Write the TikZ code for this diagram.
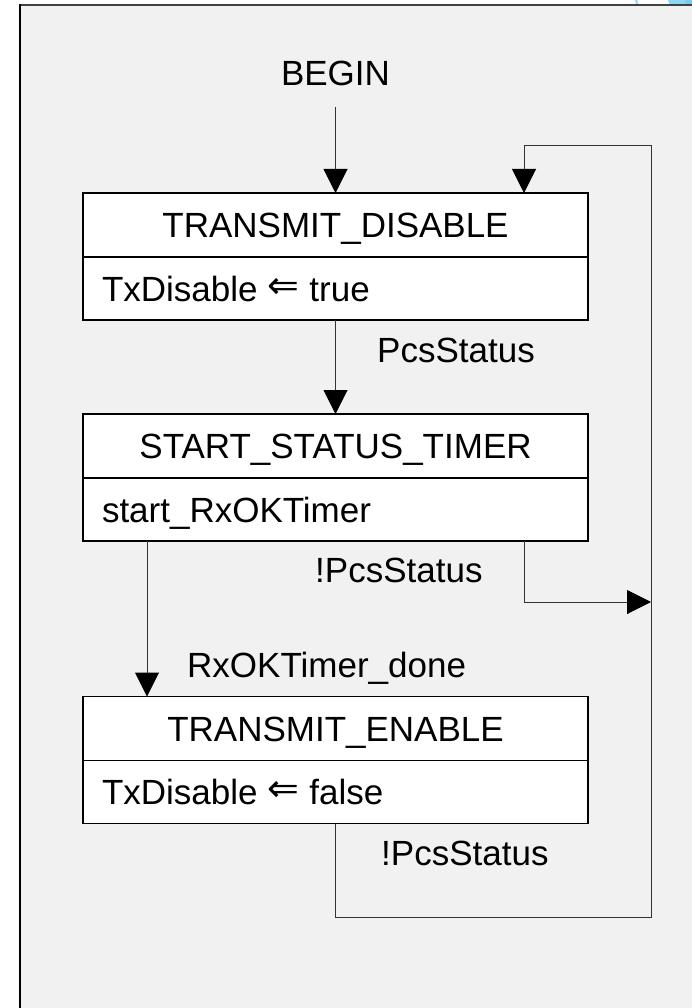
\documentclass[tikz,border=0pt]{standalone}
\usepackage{fontspec}
\setmainfont{Liberation Sans}
\newfontfamily\arrowfont{DejaVu Sans}
\usetikzlibrary{arrows.meta,calc}
\definecolor{bgc}{HTML}{F1F1F1}
\definecolor{linec}{HTML}{333333}
\definecolor{skyA}{HTML}{8ED5F2}
\definecolor{skyB}{HTML}{7ACCEC}
\newcommand{\larrsym}{\raisebox{3pt}{\arrowfont\fontsize{38}{38}\selectfont ⇐}}
\begin{document}
\begin{tikzpicture}[x=1pt,y=-1pt,
  every node/.style={font=\fontsize{35}{42}\selectfont, inner sep=0pt},
  titlebox/.style={draw=black, line width=1.3pt, fill=white, outer sep=0pt,
    minimum width=505pt, minimum height=64pt, text height=25pt, text depth=0pt, align=center},
  bodybox/.style={draw=black, line width=1.3pt, fill=white, outer sep=0pt,
    minimum width=505pt, minimum height=63pt, text height=25pt, text depth=0pt,
    text width=467pt, align=left},
  lbl/.style={anchor=base west},
  conn/.style={draw=linec, line width=1pt},
  arr/.style={conn, -{Triangle[length=24pt,width=24pt,color=black]}},
]
\useasboundingbox (0,0) rectangle (692,1008);
% page background and frame
\fill[white] (0,0) rectangle (692,1008);
\fill[bgc] (20,5) rectangle (692,1008);
\fill[skyA] (635,0) -- (637,0) -- (638.5,5) -- (636.5,5) -- cycle;
\fill[skyA] (668,0) -- (692,0) -- (692,5) -- (669.5,5) -- cycle;
\fill[skyB] (685,0) -- (692,0) -- (692,5) -- (686,5) -- cycle;
\draw[line width=2pt, color=black!75] (20,5) -- (692,5);
\draw[line width=2pt, color=black] (20,1008) -- (20,4);

% states
\node[anchor=base] (begin) at (335.5,86) {BEGIN};
\node[titlebox] (t1) at (335.5,225) {TRANSMIT\_DISABLE};
\node[bodybox, anchor=north] (b1) at (t1.south) {TxDisable\hspace{10pt}\larrsym\hspace{10pt}true};
\node[titlebox] (t2) at (335.5,446) {START\_STATUS\_TIMER};
\node[bodybox, anchor=north] (b2) at (t2.south) {start\_RxOKTimer};
\node[titlebox] (t3) at (335.5,728.5) {TRANSMIT\_ENABLE};
\node[bodybox, anchor=north] (b3) at (t3.south) {TxDisable\hspace{10pt}\larrsym\hspace{10pt}false};

% transition labels
\node[lbl] (l1) at (377,362) {PcsStatus};
\node[lbl] (l2) at (315,582) {!PcsStatus};
\node[lbl] (l3) at (187,677) {RxOKTimer\_done};
\node[lbl] (l4) at (381,865) {!PcsStatus};

% return bus on the right
\coordinate (rtop) at (651,146);
\coordinate (rmid) at (651,602);
\coordinate (rbot) at (651,917);

% connectors
\draw[arr, shorten <=20pt] (begin.south) -- (t1.north);
\draw[arr] (b1.south) -- (t2.north);
\draw[arr] ($(b2.south west)+(64,0)$) -- ($(t3.north west)+(64,0)$);
\draw[arr] ($(b2.south east)+(-64,0)$) |- (rmid);
\draw[arr] (b3.south) |- (rbot) -- (rtop) -| ($(t1.north east)+(-64,0)$);
\end{tikzpicture}
\end{document}
